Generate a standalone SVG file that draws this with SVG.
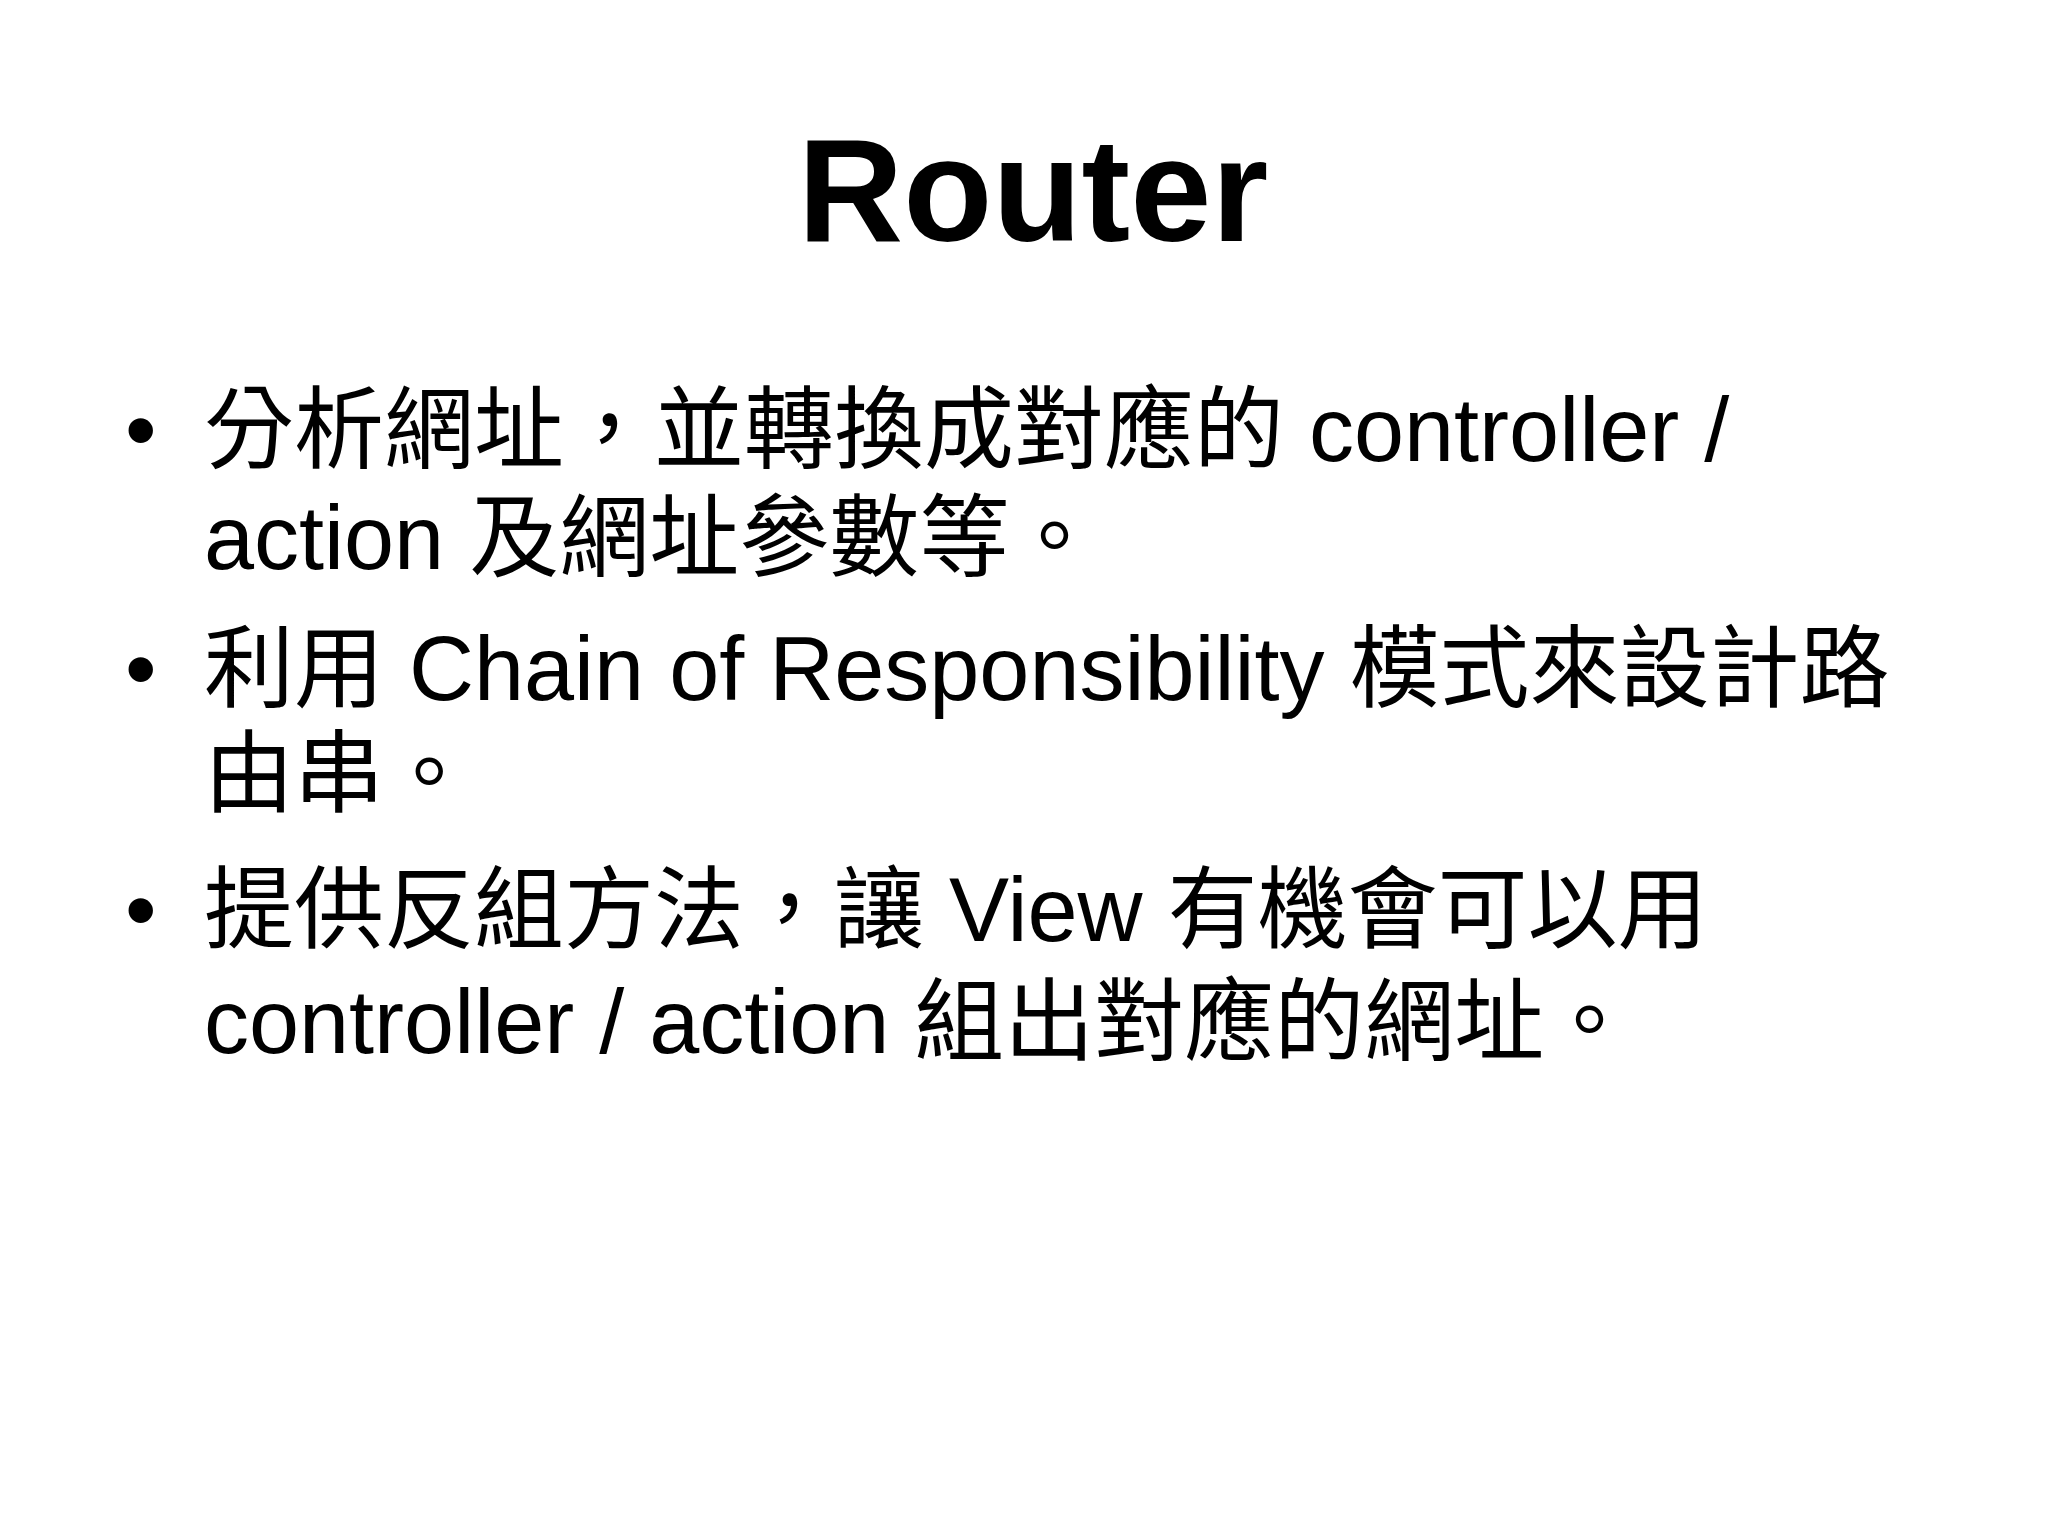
<svg xmlns="http://www.w3.org/2000/svg" width="2048" height="1536" viewBox="0 0 2048 1536">
<style>
.t{font-family:"Liberation Sans","Noto Sans CJK TC",sans-serif;fill:#000}
.b{font-size:90px}
</style>
<rect width="2048" height="1536" fill="#fff"/>
<g id="title"><text class="t" x="1033" y="241" font-size="146" font-weight="bold" text-anchor="middle">Router</text></g>
<g id="bullets" class="t b">
<text x="125" y="461">•</text>
<text x="204" y="461">分析網址，並轉換成對應的 controller /</text>
<text x="204" y="569">action 及網址參數等。</text>
<text x="125" y="700">•</text>
<text x="204" y="700">利用 Chain of Responsibility 模式來設計路</text>
<text x="204" y="805">由串。</text>
<text x="125" y="941">•</text>
<text x="204" y="941">提供反組方法，讓 View 有機會可以用</text>
<text x="204" y="1053">controller / action 組出對應的網址。</text>
</g>
</svg>
